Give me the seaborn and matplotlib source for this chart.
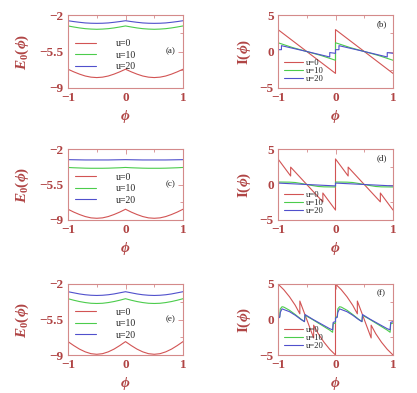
import numpy as np
import pandas as pd
import matplotlib
matplotlib.use("Agg")
import matplotlib.pyplot as plt
import seaborn as sns

sns.set_theme(style="white")
plt.rcParams['font.family'] = ['Liberation Serif', 'DejaVu Serif']
plt.rcParams['mathtext.fontset'] = 'custom'
plt.rcParams['mathtext.rm'] = 'Liberation Serif:bold'
plt.rcParams['mathtext.it'] = 'Liberation Serif:italic:bold'
plt.rcParams['mathtext.bf'] = 'Liberation Serif:bold'
plt.rcParams['mathtext.fallback'] = 'stix'

# ---------------- data ----------------
phi_E = [-1.0, -0.9, -0.8, -0.7, -0.6, -0.5, -0.4, -0.3, -0.2, -0.1, 0.0,
         0.1, 0.2, 0.3, 0.4, 0.5, 0.6, 0.7, 0.8, 0.9, 1.0]

# panel (a)
Ea_u0 = [-7.20, -7.45, -7.67, -7.85, -7.96, -8.00, -7.96, -7.85, -7.67, -7.45, -7.20,
         -7.45, -7.67, -7.85, -7.96, -8.00, -7.96, -7.85, -7.67, -7.45, -7.20]
Ea_u10 = [-3.05, -3.15, -3.24, -3.31, -3.35, -3.37, -3.35, -3.31, -3.24, -3.15, -3.05,
          -3.15, -3.24, -3.31, -3.35, -3.37, -3.35, -3.31, -3.24, -3.15, -3.05]
Ea_u20 = [-2.55, -2.63, -2.70, -2.76, -2.79, -2.80, -2.79, -2.76, -2.70, -2.63, -2.55,
          -2.63, -2.70, -2.76, -2.79, -2.80, -2.79, -2.76, -2.70, -2.63, -2.55]
# panel (c)
Ec_u0 = [-7.94, -8.22, -8.46, -8.66, -8.79, -8.83, -8.79, -8.66, -8.46, -8.22, -7.94,
         -8.22, -8.46, -8.66, -8.79, -8.83, -8.79, -8.66, -8.46, -8.22, -7.94]
Ec_u10 = [-3.82, -3.85, -3.87, -3.89, -3.90, -3.90, -3.90, -3.89, -3.87, -3.85, -3.82,
          -3.85, -3.87, -3.89, -3.90, -3.90, -3.90, -3.89, -3.87, -3.85, -3.82]
Ec_u20 = [-3.05, -3.06, -3.07, -3.08, -3.08, -3.08, -3.08, -3.08, -3.07, -3.06, -3.05,
          -3.06, -3.07, -3.08, -3.08, -3.08, -3.08, -3.08, -3.07, -3.06, -3.05]
# panel (e)
Ee_u0 = [-7.68, -8.07, -8.42, -8.69, -8.87, -8.93, -8.87, -8.69, -8.42, -8.07, -7.68,
         -8.07, -8.42, -8.69, -8.87, -8.93, -8.87, -8.69, -8.42, -8.07, -7.68]
Ee_u10 = [-3.45, -3.60, -3.73, -3.83, -3.90, -3.92, -3.90, -3.83, -3.73, -3.60, -3.45,
          -3.60, -3.73, -3.83, -3.90, -3.92, -3.90, -3.83, -3.73, -3.60, -3.45]
Ee_u20 = [-2.76, -2.87, -2.98, -3.06, -3.11, -3.13, -3.11, -3.06, -2.98, -2.87, -2.76,
          -2.87, -2.98, -3.06, -3.11, -3.13, -3.11, -3.06, -2.98, -2.87, -2.76]

# panel (b)
phi_b_u0 = [-1.0, -0.5, 0.0, 0.0, 0.5, 1.0]
Ib_u0 = [3.0, 0.0, -3.0, 3.0, 0.0, -3.0]
phi_b_u10 = [-1.0, -0.75, -0.5, -0.25, 0.0, 0.0, 0.25, 0.5, 0.75, 1.0]
Ib_u10 = [1.2, 0.55, 0.0, -0.55, -1.2, 1.2, 0.55, 0.0, -0.55, -1.2]
phi_b_u20 = [-1.0, -0.94, -0.94, -0.5, -0.1, -0.1, 0.0, 0.0, 0.06, 0.06, 0.5, 0.9, 0.9, 1.0]
Ib_u20 = [0.25, 0.25, 0.8, 0.0, -0.75, -0.15, -0.25, 0.25, 0.25, 0.8, 0.0, -0.75, -0.15, -0.25]

# panel (d)
phi_d_u0 = [-1.0, -0.78, -0.78, -0.5, -0.22, -0.22, 0.0, 0.0, 0.22, 0.22, 0.5, 0.78, 0.78, 1.0]
Id_u0 = [3.6, 1.2, 2.45, 0.0, -2.45, -1.2, -3.6, 3.6, 1.2, 2.45, 0.0, -2.45, -1.2, -3.6]
phi_d_u10 = [-1.0, -0.8, -0.7, -0.6, -0.5, -0.4, -0.3, -0.2, 0.0, 0.0,
             0.2, 0.3, 0.4, 0.5, 0.6, 0.7, 0.8, 1.0]
Id_u10 = [0.35, 0.33, 0.28, 0.15, 0.0, -0.15, -0.28, -0.33, -0.35, 0.35,
          0.33, 0.28, 0.15, 0.0, -0.15, -0.28, -0.33, -0.35]
phi_d_u20 = [-1.0, -0.5, 0.0, 0.0, 0.5, 1.0]
Id_u20 = [0.2, 0.0, -0.2, 0.2, 0.0, -0.2]

# panel (f)
phi_f_u0 = [-1.0, -0.9, -0.8, -0.7, -0.62, -0.62, -0.5, -0.38, -0.38, -0.3, -0.2, -0.1, 0.0,
            0.0, 0.1, 0.2, 0.3, 0.38, 0.38, 0.5, 0.62, 0.62, 0.7, 0.8, 0.9, 1.0]
If_u0 = [5.0, 4.2, 3.2, 2.0, 0.8, 2.6, 0.0, -2.6, -0.8, -2.0, -3.2, -4.2, -5.0,
         5.0, 4.2, 3.2, 2.0, 0.8, 2.6, 0.0, -2.6, -0.8, -2.0, -3.2, -4.2, -5.0]
phi_f_u10 = [-1.0, -0.97, -0.96, -0.93, -0.9, -0.8, -0.7, -0.6, -0.54, -0.53, -0.4, -0.3, -0.2,
             -0.1, -0.05, -0.04, 0.0,
             0.0, 0.03, 0.04, 0.07, 0.1, 0.2, 0.3, 0.4, 0.46, 0.47, 0.6, 0.7, 0.8,
             0.9, 0.95, 0.96, 1.0]
If_u10 = [0.3, 0.4, 1.5, 1.8, 1.75, 1.3, 0.7, 0.05, -0.3, 0.6, 0.0, -0.5, -1.0,
          -1.5, -1.8, -0.6, -0.5,
          0.3, 0.4, 1.5, 1.8, 1.75, 1.3, 0.7, 0.05, -0.3, 0.6, 0.0, -0.5, -1.0,
          -1.5, -1.8, -0.6, -0.5]
phi_f_u20 = [-1.0, -0.97, -0.96, -0.93, -0.8, -0.7, -0.6, -0.54, -0.53, -0.4, -0.3, -0.2,
             -0.1, -0.05, -0.04, 0.0,
             0.0, 0.03, 0.04, 0.07, 0.2, 0.3, 0.4, 0.46, 0.47, 0.6, 0.7, 0.8,
             0.9, 0.95, 0.96, 1.0]
If_u20 = [0.2, 0.3, 1.0, 1.5, 1.1, 0.6, 0.0, -0.3, 0.7, 0.05, -0.4, -0.85,
          -1.3, -1.45, -0.4, -0.3,
          0.2, 0.3, 1.0, 1.5, 1.1, 0.6, 0.0, -0.3, 0.7, 0.05, -0.4, -0.85,
          -1.3, -1.45, -0.4, -0.3]

labels = ["u=0", "u=10", "u=20"]
colors = ["#d25454", "#4ccc4c", "#5050cc"]
panel_tags = ["(a)", "(b)", "(c)", "(d)", "(e)", "(f)"]

# ---------------- style ----------------
spine_col = "#d48a8a"
text_col = "#b04444"

W, H = 417, 393
fig = plt.figure(figsize=(W / 100, H / 100), dpi=100)

rows = [(15, 88), (149, 220), (284, 355)]
cols = [(68, 183), (278, 393)]


def make_ax(c, r):
    x0, x1 = cols[c]
    y0, y1 = rows[r]
    return fig.add_axes([x0 / W, (H - y1) / H, (x1 - x0) / W, (y1 - y0) / H])


def style(ax, left):
    for s in ax.spines.values():
        s.set_color(spine_col)
        s.set_linewidth(0.8)
    ax.set_xlim(-1, 1)
    ax.set_xticks([-1, 0, 1])
    ax.set_xticks([-0.5, 0.5], minor=True)
    if left:
        ax.set_ylim(-9, -2)
        ax.set_yticks([-9, -5.5, -2])
        ax.set_yticklabels(["\u22129", "\u22125.5", "\u22122"])
        ax.set_yticks([-7.25, -3.75], minor=True)
    else:
        ax.set_ylim(-5, 5)
        ax.set_yticks([-5, 0, 5])
        ax.set_yticklabels(["\u22125", "0", "5"])
        ax.set_yticks([-2.5, 2.5], minor=True)
    ax.set_xticklabels(["\u22121", "0", "1"])
    ax.tick_params(which="both", direction="in", top=True, right=True,
                   color=spine_col, width=0.6, labelcolor=text_col,
                   labelsize=9.5, pad=3)
    ax.tick_params(which="major", length=3.5)
    ax.tick_params(which="minor", length=2)
    for t in ax.get_xticklabels() + ax.get_yticklabels():
        t.set_fontweight("bold")
    ax.set_xlabel(r"$\phi$", color=text_col, fontsize=11, labelpad=3)


E_sets = [(Ea_u0, Ea_u10, Ea_u20), (Ec_u0, Ec_u10, Ec_u20), (Ee_u0, Ee_u10, Ee_u20)]
I_sets = [((phi_b_u0, Ib_u0), (phi_b_u10, Ib_u10), (phi_b_u20, Ib_u20)),
          ((phi_d_u0, Id_u0), (phi_d_u10, Id_u10), (phi_d_u20, Id_u20)),
          ((phi_f_u0, If_u0), (phi_f_u10, If_u10), (phi_f_u20, If_u20))]

for r in range(3):
    # left: energies
    ax = make_ax(0, r)
    for k in range(3):
        sns.lineplot(x=phi_E, y=E_sets[r][k], ax=ax, color=colors[k], lw=0.8,
                     label=labels[k], sort=False, estimator=None)
    style(ax, True)
    ax.set_ylabel(r"$E_0(\phi)$", color=text_col, fontsize=11, labelpad=6)
    ax.legend(loc="upper left", bbox_to_anchor=(0.0, 0.76), frameon=False,
              fontsize=7, handlelength=2.2, labelspacing=0.25,
              handletextpad=2.0, borderaxespad=0.3)
    ax.text(0.89, 0.5, panel_tags[2 * r], transform=ax.transAxes, fontsize=6.5,
            ha="center", va="center", color="#222222")

    # right: currents
    ax = make_ax(1, r)
    for k in range(3):
        px, py = I_sets[r][k]
        sns.lineplot(x=px, y=py, ax=ax, color=colors[k], lw=0.8,
                     label=labels[k], sort=False, estimator=None)
    style(ax, False)
    ax.set_ylabel(r"I$(\phi)$", color=text_col, fontsize=11, labelpad=5,
                  fontweight="bold")
    ax.legend(loc="lower left", bbox_to_anchor=(0.0, -0.01), frameon=False,
              fontsize=6.2, handlelength=2.2, labelspacing=0.0,
              handletextpad=0.3, borderaxespad=0.3)
    ax.text(0.90, 0.87, panel_tags[2 * r + 1], transform=ax.transAxes, fontsize=6.5,
            ha="center", va="center", color="#222222")

fig.savefig("out.png", dpi=100)
